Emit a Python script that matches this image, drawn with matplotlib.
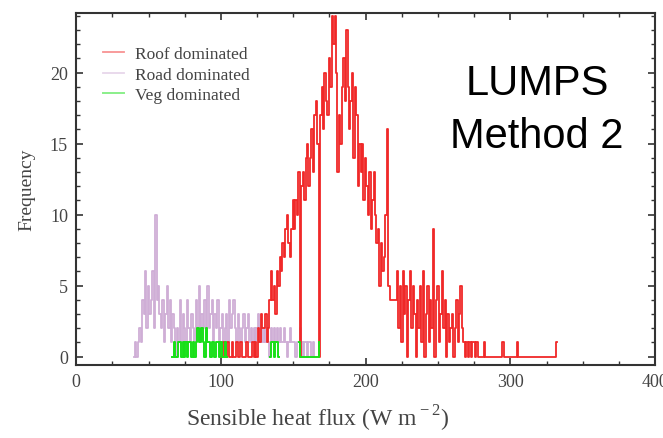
#!/usr/bin/env python3
"""
Frequency of sensible heat flux by dominant surface (LUMPS method 2)
"""

import numpy as np
import matplotlib
matplotlib.use("Agg")
import matplotlib.pyplot as plt
from matplotlib.ticker import MultipleLocator

# 1 W m-2 bins, first bin centre given by *_start
roof_start = 100
roof_freq = [
    0, 0, 1, 0, 0, 1, 0, 0, 1, 0,
    0, 1, 0, 0, 1, 0, 0, 0, 1, 0,
    0, 0, 1, 0, 1, 0, 2, 1, 3, 2,
    2, 3, 1, 2, 4, 6, 4, 5, 3, 6,
    5, 7, 6, 8, 7, 9, 10, 8, 7, 9,
    11, 9, 11, 10, 13, 0, 12, 13, 11, 14,
    15, 12, 14, 16, 13, 17, 18, 15, 0, 17,
    19, 16, 20, 18, 17, 21, 19, 24, 22, 24,
    20, 13, 17, 15, 19, 21, 18, 23, 19, 16,
    18, 20, 14, 19, 17, 12, 15, 13, 15, 11,
    14, 12, 10, 13, 9, 11, 13, 10, 8, 9,
    5, 8, 6, 7, 10, 16, 5, 4, 4, 4,
    4, 4, 6, 2, 5, 1, 6, 3, 5, 0,
    4, 6, 2, 5, 3, 0, 4, 2, 5, 1,
    6, 0, 3, 5, 1, 4, 2, 9, 0, 4,
    5, 1, 3, 6, 2, 4, 0, 3, 1, 2,
    3, 0, 2, 4, 1, 3, 5, 2, 1, 0,
    1, 0, 1, 0, 1, 1, 0, 1, 0, 0,
    0, 0, 1, 0, 0, 0, 0, 0, 0, 0,
    0, 0, 0, 0, 0, 1, 0, 0, 0, 0,
    0, 0, 0, 0, 0, 1, 0, 0, 0, 0,
    0, 0, 0, 0, 0, 0, 0, 0, 0, 0,
    0, 0, 0, 0, 0, 0, 0, 0, 0, 0,
    0, 0, 1,
]

road_start = 40
road_freq = [
    0, 1, 0, 1, 2, 1, 4, 3, 6, 2,
    5, 3, 4, 6, 2, 10, 4, 5, 3, 2,
    4, 1, 3, 5, 2, 4, 1, 3, 2, 0,
    2, 1, 4, 1, 3, 2, 1, 4, 2, 1,
    3, 2, 1, 4, 2, 5, 1, 3, 2, 4,
    1, 5, 2, 3, 4, 1, 3, 2, 4, 1,
    2, 3, 1, 2, 3, 1, 4, 2, 3, 4,
    2, 1, 3, 2, 1, 2, 3, 1, 2, 3,
    1, 2, 1, 2, 1, 2, 3, 1, 2, 1,
    2, 1, 2, 1, 0, 2, 1, 2, 1, 2,
    1, 2, 1, 1, 2, 1, 0, 1, 2, 1,
    1, 1, 0, 1, 1, 2, 1, 0, 1, 1,
    0, 1, 1, 0, 1, 0, 0,
]

# vegetation only shows up in three short runs
veg_starts = [66, 134, 154]
veg_freq = [
    [0, 0, 1, 0, 0, 1, 1, 0, 1, 0,
     1, 0, 1, 1, 0, 1, 0, 1, 2, 1,
     1, 2, 1, 0, 2, 1, 1, 0, 1, 1,
     0, 1, 1, 0, 1, 0, 0, 1, 0],
    [0, 1, 1, 0, 1, 1, 0],
    [1, 0, 0, 0, 0, 0, 0, 0, 0, 0, 0, 0, 0, 0, 1],
]

roof_color = '#f02828'
road_color = '#cfaed6'
veg_color = '#18e018'

plt.rcParams['font.family'] = ['Liberation Serif', 'DejaVu Serif']
plt.rcParams['mathtext.fontset'] = 'custom'
plt.rcParams['mathtext.rm'] = 'Liberation Serif'

fig = plt.figure(figsize=(6.63, 4.39), dpi=100)
ax = fig.add_axes([0.115, 0.166, 0.873, 0.802])

road_x = np.arange(len(road_freq)) + road_start
roof_x = np.arange(len(roof_freq)) + roof_start
h_road, = ax.plot(road_x, road_freq, drawstyle='steps-mid',
                  color=road_color, lw=1.3, label='Road dominated')
h_roof, = ax.plot(roof_x, roof_freq, drawstyle='steps-mid',
                  color=roof_color, lw=1.3, label='Roof dominated')
for i, (s, f) in enumerate(zip(veg_starts, veg_freq)):
    h = ax.plot(np.arange(len(f)) + s, f, drawstyle='steps-mid',
                color=veg_color, lw=1.4,
                label='Veg dominated' if i == 0 else None)[0]
    if i == 0:
        h_veg = h

ax.set_xlim(0, 400)
ax.set_ylim(-0.6, 24.2)
ax.xaxis.set_major_locator(MultipleLocator(100))
ax.xaxis.set_minor_locator(MultipleLocator(25))
ax.yaxis.set_major_locator(MultipleLocator(5))
ax.yaxis.set_minor_locator(MultipleLocator(1))
ax.tick_params(which='both', direction='in', top=True, right=True,
               color='#333333', labelsize=13, labelcolor='#444444')
ax.tick_params(which='major', length=5, width=1.2, pad=6)
ax.tick_params(which='minor', length=3, width=1.0)
for sp in ax.spines.values():
    sp.set_color('#333333')
    sp.set_linewidth(1.5)

ax.set_xlabel('Sensible heat flux (W m$^{\\rm -2}$)', fontsize=17,
              color='#444444')
ax.xaxis.set_label_coords(0.418, -0.108, transform=ax.transAxes)
ax.xaxis.label.set_va('top')
ax.set_ylabel('Frequency', fontsize=14, color='#444444')
ax.yaxis.set_label_coords(-0.07, 0.5, transform=ax.transAxes)

leg = ax.legend(handles=[h_roof, h_road, h_veg], loc='upper left',
                bbox_to_anchor=(0.02, 0.95), frameon=False, fontsize=12.5,
                labelspacing=0.25, handlelength=1.2, handletextpad=0.6)
for t in leg.get_texts():
    t.set_color('#444444')
for lh in leg.get_lines():
    lh.set_alpha(0.5)

fig.text(537 / 663, 1 - 95 / 439, 'LUMPS', ha='center', va='baseline',
         fontsize=30, family='Liberation Sans')
fig.text(537 / 663, 1 - 148 / 439, 'Method 2', ha='center', va='baseline',
         fontsize=30, family='Liberation Sans')

fig.savefig('out.png', dpi=100)
